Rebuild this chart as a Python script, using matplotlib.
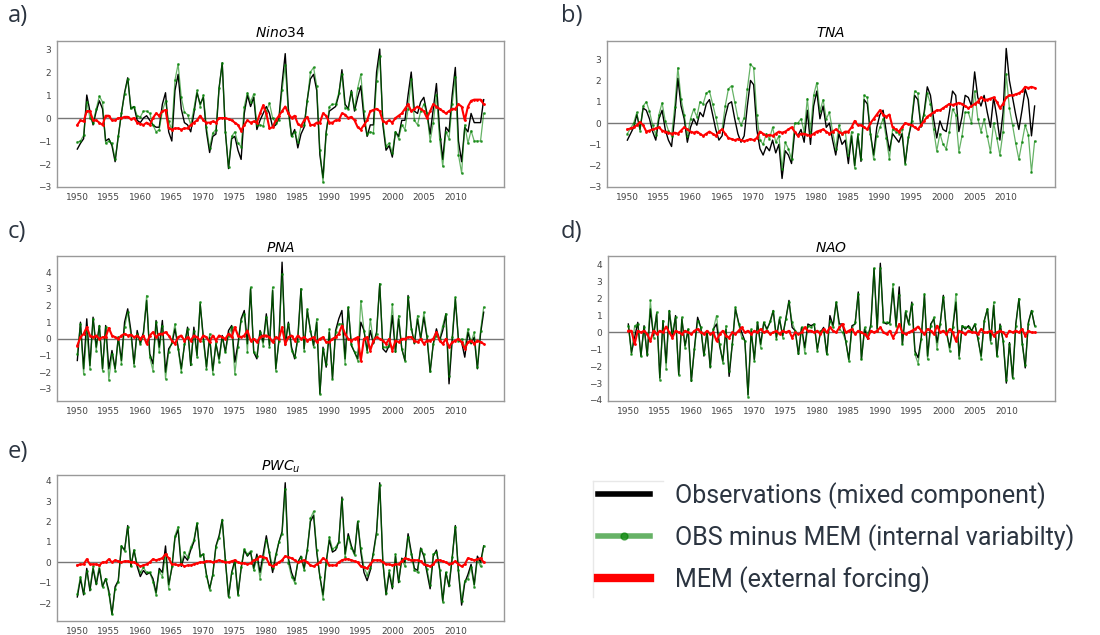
import matplotlib.pyplot as plt
import numpy as np
from matplotlib.lines import Line2D

# semi-annual samples, 1950.0 ... 2014.5
years = np.arange(1950, 2015, 0.5)

# ---- a) Nino34 ----
nino34_obs = [
    -1.35, -1.1, -0.9, 1.0, 0.3, -0.3, 0.3, 0.75, 0.4, -1.0,
    -0.9, -1.2, -1.9, -0.8, 0.2, 1.1, 1.75, 0.4, 0.5, -0.1,
    -0.2, 0.0, 0.1, -0.1, -0.3, -0.4, -0.4, 0.6, 1.1, -0.6,
    -1.0, 1.2, 1.9, 0.4, -0.2, -0.3, -0.6, 0.2, 1.1, 0.6,
    0.9, -0.6, -1.5, -0.8, -0.7, 1.3, 2.4, -0.6, -2.2, -0.9,
    -0.8, -1.4, -1.8, 0.2, 1.0, 0.5, 0.9, -0.5, -0.1, 0.2,
    0.5, 0.2, -0.4, -0.3, 0.0, 1.5, 2.8, 0.4, -0.8, -0.5,
    -1.3, -0.7, -0.4, 0.8, 1.7, 1.9, 1.2, -1.6, -2.6, -0.6,
    0.3, 0.4, 0.5, 1.0, 2.1, 0.6, 0.4, 1.2, 0.3, 0.9,
    1.4, 0.0, -0.8, -0.3, -0.3, 2.0, 3.0, -0.3, -1.4, -1.2,
    -1.7, -0.6, -0.8, -0.1, -0.1, 1.0, 2.0, 0.3, 0.2, 0.7,
    0.9, 0.2, -0.7, 0.4, 1.5, -0.5, -1.8, -0.4, -0.6, 1.0,
    2.2, -1.0, -1.9, -0.4, -0.6, 0.2, -0.2, -0.2, -0.2, 0.8]
nino34_mem = [
    -0.3, -0.1, -0.15, 0.3, 0.3, -0.1, -0.1, -0.2, -0.3, 0.1,
    0.1, -0.1, -0.1, 0.0, 0.0, 0.05, 0.05, -0.05, 0.0, -0.2,
    -0.25, -0.3, -0.2, -0.3, 0.0, 0.2, 0.1, 0.3, 0.35, -0.45,
    -0.5, -0.45, -0.45, -0.5, -0.45, -0.45, -0.3, -0.2, -0.1, 0.1,
    -0.1, -0.2, -0.2, -0.15, -0.2, 0.0, 0.0, 0.0, -0.05, -0.1,
    -0.2, -0.3, -0.55, -0.3, -0.1, -0.2, -0.15, -0.2, 0.2, 0.55,
    0.2, -0.45, -0.4, -0.1, 0.1, 0.3, 0.5, 0.2, 0.0, 0.1,
    -0.25, -0.35, -0.1, 0.05, -0.3, -0.3, -0.2, -0.2, 0.2, 0.1,
    -0.2, -0.2, -0.1, -0.1, 0.2, 0.15, 0.0, 0.05, -0.1, -0.4,
    -0.5, -0.3, -0.1, 0.3, 0.35, 0.4, 0.3, -0.15, -0.2, -0.1,
    -0.2, 0.0, 0.1, 0.2, 0.4, 0.6, 0.3, 0.4, 0.5, 0.4,
    0.3, 0.0, 0.3, 0.6, 0.5, 0.4, 0.3, 0.2, 0.3, 0.4,
    0.4, 0.6, 0.5, -0.1, 0.5, 0.75, 0.8, 0.8, 0.8, 0.6]

# ---- b) TNA ----
tna_obs = [
    -0.8, -0.5, -0.2, 0.4, -0.3, 0.7, 0.6, 0.2, -0.4, -0.8,
    0.2, 0.6, -0.3, -0.8, -1.1, 0.3, 2.1, 0.8, 0.2, -0.9,
    -0.2, 0.2, -0.1, 0.5, 0.3, 0.9, 1.1, 0.4, -0.3, -0.8,
    -0.6, 0.3, 0.9, 1.0, 0.2, -0.5, -0.9, -0.6, 0.8, 2.0,
    1.8, -0.3, -1.2, -1.5, -1.1, -1.3, -0.8, -1.4, -1.0, -2.6,
    -1.3, -1.5, -1.9, -0.4, -0.6, -0.3, -0.9, 0.6, -1.0, 0.8,
    1.5, 0.2, 0.8, -0.2, 0.0, -0.8, -1.5, -0.5, -1.0, -0.8,
    -1.9, -0.6, -2.0, -0.6, -1.8, 1.1, 0.9, -0.5, -1.5, -0.2,
    0.4, 0.6, -0.4, -1.3, -0.5, -0.7, -0.9, -0.5, -1.9, -0.7,
    0.0, 1.3, 1.1, -0.2, 0.5, 1.7, 1.3, 0.2, -0.7, 0.1,
    -0.3, -0.4, 0.5, 1.5, 1.3, -0.4, 0.3, 1.3, 1.2, 0.8,
    2.4, 1.2, 0.8, 1.3, 0.5, -0.2, 1.2, 0.3, -0.8, 0.5,
    3.5, 2.0, 1.2, 0.4, -0.3, 0.6, 1.6, 1.1, -0.6, 0.8]
tna_mem = [
    -0.3, -0.25, -0.2, -0.1, 0.05, -0.1, -0.4, -0.35, -0.3, -0.25,
    -0.2, -0.35, -0.4, -0.45, -0.5, -0.45, -0.5, -0.35, -0.2, -0.3,
    -0.4, -0.45, -0.4, -0.5, -0.6, -0.5, -0.4, -0.5, -0.6, -0.4,
    -0.3, -0.5, -0.7, -0.75, -0.8, -0.75, -0.8, -0.85, -0.8, -0.75,
    -0.8, -0.7, -0.4, -0.5, -0.6, -0.55, -0.6, -0.5, -0.4, -0.45,
    -0.4, -0.3, -0.2, -0.4, -0.6, -0.5, -0.5, -0.55, -0.6, -0.5,
    -0.4, -0.35, -0.3, -0.4, -0.5, -0.4, -0.3, -0.4, -0.5, -0.4,
    -0.4, -0.2, 0.1, -0.1, -0.1, -0.2, -0.3, 0.0, 0.2, 0.4,
    0.6, 0.4, 0.3, 0.4, -0.2, -0.3, -0.4, -0.2, 0.0, -0.05,
    -0.1, -0.2, -0.3, -0.1, 0.1, 0.3, 0.4, 0.5, 0.6, 0.6,
    0.7, 0.8, 0.9, 0.85, 0.9, 0.95, 0.9, 0.8, 0.7, 0.8,
    0.9, 1.0, 1.2, 1.1, 1.1, 1.15, 1.2, 1.0, 0.7, 0.9,
    1.2, 1.3, 1.3, 1.35, 1.4, 1.5, 1.7, 1.65, 1.7, 1.65]

# ---- c) PNA ----
pna_obs = [
    -1.3, 1.0, -1.8, 1.2, -1.6, 1.3, -0.5, 0.8, -1.8, 0.8,
    -1.8, -0.7, -1.8, 0.1, -1.3, 1.0, 1.8, 0.5, -1.5, 0.5,
    -0.3, 0.4, 2.3, -0.9, -1.5, 1.1, -0.5, 1.1, -2.0, -0.6,
    -0.3, 0.6, -0.5, -1.8, -0.4, 0.7, -1.6, 0.7, -1.0, 2.1,
    0.1, -1.7, 0.1, -1.9, -0.3, -1.2, 0.2, -0.8, 0.5, 0.8,
    -1.4, -0.3, 1.2, 1.7, -0.3, 3.0, -0.8, -1.2, 0.5, -0.2,
    1.5, -0.4, 2.9, -1.8, -0.1, 4.6, -0.4, 1.0, -0.5, -1.2,
    0.1, 3.0, -0.6, 1.7, 0.5, -0.4, 1.0, -3.3, -0.5, -1.7,
    0.4, -2.4, 0.5, 1.2, 1.7, -1.2, 1.9, -0.4, -0.8, -1.2,
    1.0, 0.5, -0.7, 0.5, -0.3, 0.4, 3.3, -0.6, -0.8, -0.4,
    1.4, -0.8, 1.2, -0.6, -1.3, 2.6, 0.7, -0.3, 1.2, 0.0,
    1.3, 0.1, -2.0, -0.3, 0.6, -0.1, 0.5, 1.5, -2.7, -0.1,
    2.4, -0.1, -0.2, -1.1, 0.4, -0.3, 0.1, -1.8, 0.3, 1.6]
pna_mem = [
    -0.4, 0.1, 0.3, 0.7, 0.2, 0.1, 0.2, 0.0, 0.1, 0.1,
    0.65, 0.2, 0.1, 0.0, 0.2, 0.3, 0.2, 0.25, 0.1, 0.2,
    0.0, 0.2, -0.3, 0.2, 0.4, 0.1, 0.3, 0.3, 0.4, 0.2,
    -0.1, -0.3, 0.1, 0.2, -0.1, 0.1, -0.1, 0.2, 0.1, -0.1,
    0.2, 0.1, -0.2, 0.2, -0.1, 0.2, 0.1, 0.0, 0.3, 0.1,
    0.7, 0.2, 0.1, 0.2, 0.5, -0.1, 0.0, -0.2, 0.1, 0.2,
    0.2, 0.1, -0.2, 0.1, 0.0, 0.7, -0.3, 0.1, 0.2, -0.1,
    0.2, 0.0, 0.1, -0.1, 0.0, 0.1, -0.2, 0.0, 0.1, -0.2,
    -0.2, 0.0, 0.1, 0.3, 0.8, 0.3, 0.0, -0.1, 0.0, 0.1,
    -1.3, 0.0, 0.1, -0.7, -0.1, 0.1, 0.0, -0.1, -0.3, 0.0,
    -0.7, -0.1, -0.2, 0.0, 0.0, 0.1, 0.1, -0.1, -0.2, 0.0,
    -0.3, -0.1, -0.1, 0.0, 0.4, -0.1, -0.3, 0.0, -0.5, -0.2,
    -0.1, 0.0, -0.2, -0.6, -0.2, -0.1, -0.3, -0.1, -0.2, -0.3]

# ---- d) NAO ----
nao_obs = [
    0.5, -1.2, -0.3, 0.6, -1.4, 0.4, -1.4, 1.4, -0.2, 1.1,
    -2.7, 0.7, -1.8, 1.3, -0.3, 1.0, -2.5, 0.8, -0.8, 0.2,
    -2.9, -0.9, 0.9, 0.3, -1.4, 0.1, -2.1, 0.2, 0.5, -0.8,
    -1.7, 0.2, -2.6, -0.7, 1.4, 0.6, 0.0, -0.5, -3.7, 0.1,
    -1.6, 0.6, -0.7, 0.6, 0.2, 0.6, 1.3, -0.3, 0.8, -0.2,
    0.8, 1.9, 0.3, 0.1, -1.3, 0.3, -0.9, 0.5, 0.4, 0.5,
    -1.0, 0.0, 0.3, -1.3, 1.0, 0.4, 1.8, 0.5, 0.5, -0.5,
    -1.6, 0.4, 0.5, 2.4, -1.6, 0.2, -0.4, 0.5, 3.8, 0.2,
    4.1, 0.6, 0.5, 0.6, 2.6, 0.4, 2.7, -0.7, 1.2, 0.5,
    1.8, -1.1, -1.5, -0.3, 2.2, -1.4, 0.5, 0.8, -0.6, 0.5,
    2.2, 0.0, -0.9, 0.3, 1.8, -1.4, 0.4, 0.2, 0.4, 0.1,
    0.5, -0.4, -1.4, 0.7, 1.4, -0.5, 1.6, -1.4, 0.5, -0.5,
    -3.0, -0.6, -2.7, 0.5, 2.0, -0.5, -2.1, 0.6, 1.3, 0.4]
nao_mem = [
    0.1, 0.1, -0.7, 0.1, 0.0, 0.1, -0.1, -0.5, 0.1, -0.1,
    0.1, 0.0, 0.35, 0.0, -0.3, 0.1, 0.0, -0.1, 0.1, 0.0,
    -0.1, 0.1, 0.2, 0.0, -0.1, 0.1, -0.1, 0.0, -0.5, -0.1,
    0.1, -0.2, -0.3, 0.0, -0.1, 0.1, 0.3, 0.0, 0.1, -0.1,
    0.1, 0.0, 0.2, 0.0, 0.1, -0.1, 0.0, 0.1, -0.1, 0.1,
    0.0, 0.1, -0.3, 0.0, -0.1, 0.0, 0.3, 0.1, 0.1, 0.0,
    0.1, -0.1, 0.2, 0.0, 0.3, 0.1, 0.0, 0.3, 0.5, 0.0,
    0.1, 0.2, -0.1, 0.1, 0.0, -0.1, -0.3, 0.1, 0.0, 0.1,
    0.3, 0.0, -0.1, 0.1, -0.3, 0.0, 0.5, 0.0, -0.1, 0.0,
    0.1, 0.2, 0.35, 0.1, -0.1, 0.2, 0.1, -0.1, 0.4, 0.0,
    0.1, -0.1, 0.2, 0.0, -0.5, 0.1, 0.0, -0.1, 0.1, 0.0,
    0.0, -0.1, 0.2, 0.0, 0.0, 0.1, -0.2, 0.0, 0.1, 0.0,
    -0.2, 0.1, 0.0, 0.1, 0.0, 0.2, -0.2, 0.1, 0.0, 0.0]

# ---- e) PWCu ----
pwc_obs = [
    -1.7, -0.8, -1.6, -0.3, -1.4, -0.3, -1.1, -0.3, -1.2, -0.8,
    -1.4, -2.55, -1.2, -0.9, 0.8, 0.6, 1.8, -0.2, 0.6, -0.2,
    -0.7, -0.4, -0.6, -0.5, -0.8, -1.5, -0.3, -0.5, 0.8, -1.1,
    -0.3, 1.2, 1.6, -0.2, 0.3, 0.1, 0.6, 1.0, 1.9, 0.3,
    0.4, -0.6, -1.3, -0.6, 0.8, 1.3, 2.1, 0.1, -1.7, -0.5,
    0.1, -1.6, -0.3, 0.6, 0.3, 0.5, -0.3, 0.4, -0.5, 0.4,
    1.3, 0.4, -0.5, 0.3, 1.0, 1.5, 3.9, 0.2, -0.5, -0.9,
    0.0, 0.3, -0.3, 0.6, 2.0, 2.3, 0.5, -0.7, -1.6, 0.0,
    1.1, 0.5, 0.6, 1.0, 3.2, 0.4, 1.4, 0.8, 0.4, 2.0,
    0.5, -0.5, -0.9, -0.4, 0.5, 1.5, 3.9, 0.0, -1.6, -0.5,
    -1.3, 0.3, -1.0, 0.2, 0.0, 1.4, 0.5, -0.3, -0.4, 0.7,
    0.3, -0.5, -1.3, 0.3, 0.6, -0.3, -1.9, -0.5, -1.2, 0.2,
    1.8, -0.5, -2.1, -1.0, -0.6, -0.1, -1.1, 0.3, 0.0, 0.8]
pwc_mem = [
    -0.15, -0.1, -0.1, 0.15, -0.1, -0.1, -0.1, -0.15, 0.0, 0.0,
    0.15, 0.0, 0.1, 0.05, 0.0, 0.05, 0.05, 0.0, 0.0, -0.1,
    -0.2, -0.15, -0.1, 0.0, 0.15, 0.1, 0.15, 0.2, 0.4, 0.2,
    -0.1, -0.1, -0.15, -0.1, -0.2, -0.15, -0.15, -0.1, -0.05, 0.0,
    0.0, 0.05, 0.05, 0.0, 0.05, 0.1, 0.05, 0.0, 0.0, 0.05,
    0.1, 0.0, -0.05, -0.05, -0.1, -0.05, 0.1, 0.15, 0.3, 0.25,
    0.2, -0.1, -0.2, -0.1, 0.0, 0.1, 0.3, 0.25, 0.2, 0.1,
    0.0, 0.05, 0.1, 0.0, -0.15, -0.2, -0.1, 0.0, 0.2, 0.1,
    -0.15, -0.15, -0.15, 0.0, 0.1, 0.15, 0.15, 0.1, 0.05, 0.0,
    -0.2, -0.25, -0.3, -0.1, 0.1, 0.1, 0.1, 0.0, -0.1, -0.1,
    -0.15, -0.1, -0.1, 0.05, 0.2, 0.15, 0.1, 0.1, 0.1, 0.05,
    -0.1, -0.15, -0.2, -0.1, 0.1, 0.1, 0.05, 0.0, -0.1, -0.05,
    0.05, -0.1, -0.2, -0.1, 0.2, 0.15, 0.1, 0.15, 0.2, 0.0]

titles = ['$Nino34$', '$TNA$', '$PNA$', '$NAO$', '$PWC_u$']
letters = ['a)', 'b)', 'c)', 'd)', 'e)']
series = [(nino34_obs, nino34_mem), (tna_obs, tna_mem), (pna_obs, pna_mem),
          (nao_obs, nao_mem), (pwc_obs, pwc_mem)]
ylims = [(-3.0, 3.35), (-3.0, 3.85), (-3.73, 4.97), (-4.06, 4.53), (-2.88, 4.28)]
yticks = [range(-3, 4), range(-3, 4), range(-3, 5), range(-4, 5), range(-2, 5)]

W, H = 1100, 635
# axes boxes in pixels: left, top, right, bottom
boxes = [(57, 41, 504, 187), (607, 41, 1055, 187),
         (57, 256, 504, 401), (608, 256, 1055, 401),
         (57, 475, 504, 621)]
letter_pos = [(8, 16), (561, 16), (8, 232), (561, 232), (8, 452)]

txt_col = '#2b3440'
fig = plt.figure(figsize=(W / 100, H / 100), dpi=100)

for i, (obs, mem) in enumerate(series):
    l, t, r, b = boxes[i]
    ax = fig.add_axes([l / W, 1 - b / H, (r - l) / W, (b - t) / H])
    obs = np.array(obs)
    mem = np.array(mem)
    internal = obs - mem  # "OBS minus MEM"
    ax.axhline(0, color='#777777', lw=1.0, zorder=1)
    ax.plot(years, obs, color='black', lw=1.0, zorder=2)
    ax.plot(years, internal, color='green', alpha=0.6, lw=0.9,
            marker='.', markersize=2.2, zorder=3)
    ax.plot(years, mem, color='red', lw=1.5, marker='.', markersize=2, zorder=4)
    ax.set_ylim(*ylims[i])
    ax.set_yticks(list(yticks[i]))
    ax.set_xticks(range(1950, 2015, 5))
    ax.tick_params(length=0, labelsize=6.5, labelcolor='#444444', pad=4)
    for s in ax.spines.values():
        s.set_color('#999999')
        s.set_linewidth(1.0)
    ax.set_title(titles[i], fontsize=10, pad=3)
    fig.text(letter_pos[i][0] / W, 1 - letter_pos[i][1] / H, letters[i],
             fontsize=17, color=txt_col, family='Open Sans', va='center', ha='left')

handles = [
    Line2D([], [], color='black', lw=4),
    Line2D([], [], color='green', alpha=0.6, lw=4, marker='.', markersize=10),
    Line2D([], [], color='red', lw=6, marker='.', markersize=8),
]
labels = ['Observations (mixed component)',
          'OBS minus MEM (internal variabilty)',
          'MEM (external forcing)']
leg = fig.legend(handles, labels, loc='upper left',
                 bbox_to_anchor=(598 / W, 1 - 482 / H), frameon=False,
                 borderaxespad=0, borderpad=0,
                 prop={'family': 'Roboto', 'size': 18},
                 handlelength=2.1, handletextpad=1.0, labelspacing=0.6)
for t in leg.get_texts():
    t.set_color(txt_col)

# faint frame edges of the legend box
fig.add_artist(Line2D([593 / W, 593 / W], [1 - 481 / H, 1 - 597 / H],
                      color='#e8e8e8', lw=1))
fig.add_artist(Line2D([593 / W, 663 / W], [1 - 481 / H, 1 - 481 / H],
                      color='#e8e8e8', lw=1))

fig.savefig('out.png', dpi=100)
